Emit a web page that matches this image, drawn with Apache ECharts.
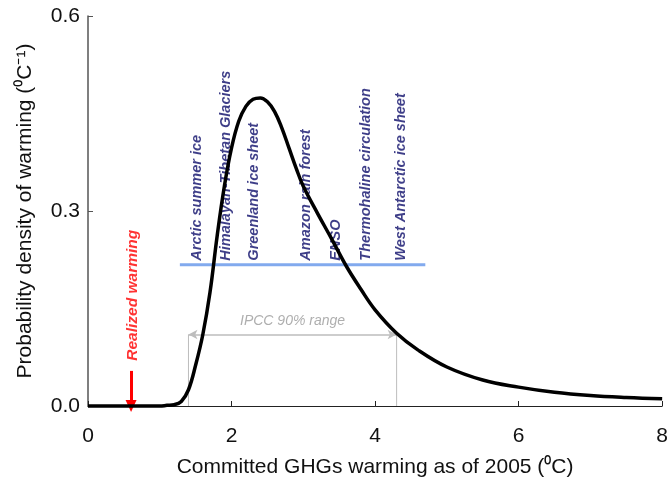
<!DOCTYPE html>
<html>
<head>
<meta charset="utf-8">
<script src="https://cdn.jsdelivr.net/npm/echarts@6/dist/echarts.min.js"></script>
<style>
html,body{margin:0;padding:0;background:#fff;}
#chart{width:671px;height:483px;}
</style>
</head>
<body>
<div id="chart"></div>
<script>
// ---- data ----
var curveX = [0, 0.5, 1.0, 1.1, 1.2, 1.3, 1.4, 1.5, 1.6, 1.7, 1.8, 1.9, 2.0, 2.1, 2.2, 2.3, 2.4, 2.5, 2.6, 2.7, 2.8, 2.9, 3.0, 3.2, 3.4, 3.6, 3.8, 4.0, 4.3, 4.6, 5.0, 5.5, 6.0, 6.5, 7.0, 7.5, 8.0];
var curveY = [0, 0, 0, 0.001, 0.002, 0.007, 0.025, 0.063, 0.11, 0.175, 0.262, 0.338, 0.397, 0.438, 0.461, 0.472, 0.474, 0.468, 0.453, 0.428, 0.397, 0.366, 0.338, 0.296, 0.256, 0.215, 0.180, 0.148, 0.112, 0.086, 0.060, 0.040, 0.029, 0.021, 0.016, 0.013, 0.011];
var tippingNames = ['Arctic summer ice', 'Himalayan-Tibetan Glaciers', 'Greenland ice sheet', 'Amazon rain forest', 'ENSO', 'Thermohaline circulation', 'West Antarctic ice sheet'];
var tippingX = [1.52, 1.92, 2.31, 3.04, 3.46, 3.88, 4.36];
var thresholdY = 0.2175;
var thresholdRange = [1.28, 4.70];
var realizedX = 0.6;
var realizedTop = 0.054;
var ipccRange = [1.4, 4.3];
var ipccY = 0.11;
var ipccLabel = 'IPCC 90% range';
var xTicks = [0, 2, 4, 6, 8];
var yTicks = [0.0, 0.3, 0.6];

var FONT = '"Liberation Sans", Arial, Helvetica, sans-serif';
var curveData = curveX.map(function (x, i) { return [x, curveY[i]]; });
var tippingData = tippingX.map(function (x, i) { return { value: [x, thresholdY], name: tippingNames[i] }; });

var chart = echarts.init(document.getElementById('chart'), null, { renderer: 'canvas' });
chart.setOption({
  animation: false,
  backgroundColor: '#ffffff',
  grid: { left: 88, right: 6, top: 16, bottom: 75, containLabel: false },
  xAxis: {
    type: 'value', min: xTicks[0], max: xTicks[xTicks.length - 1], interval: 2,
    name: 'Committed GHGs warming as of 2005 (\u2070C)',
    nameLocation: 'middle', nameGap: 51,
    nameTextStyle: { fontFamily: FONT, fontSize: 21, color: '#111' },
    axisLine: { show: true, onZero: false, lineStyle: { color: '#222', width: 1 } },
    axisTick: { show: true, inside: true, length: 5, lineStyle: { color: '#222' } },
    axisLabel: { fontFamily: FONT, fontSize: 21, color: '#111', margin: 20 },
    splitLine: { show: false }
  },
  yAxis: {
    type: 'value', min: yTicks[0], max: yTicks[yTicks.length - 1], interval: 0.3,
    name: 'Probability density of warming (\u2070C\u207B\u00B9)',
    nameLocation: 'middle', nameGap: 52, nameRotate: 90,
    nameTextStyle: { fontFamily: FONT, fontSize: 21, color: '#111' },
    axisLine: { show: true, lineStyle: { color: '#555', width: 1.5 } },
    axisTick: { show: true, inside: true, length: 5, lineStyle: { color: '#555' } },
    axisLabel: { fontFamily: FONT, fontSize: 21, color: '#111', margin: 8,
      formatter: function (v) { return v.toFixed(1); } },
    splitLine: { show: false }
  },
  series: [
    { // IPCC vertical bounds
      type: 'line', z: 2, symbol: 'none', silent: true, clip: false,
      lineStyle: { color: '#bdbdbd', width: 1 },
      data: [[ipccRange[0], 0], [ipccRange[0], ipccY], null, [ipccRange[1], ipccY], [ipccRange[1], 0]],
      connectNulls: false,
      markLine: {
        silent: true, symbol: ['arrow', 'arrow'], symbolSize: [7, 9],
        label: { show: false },
        lineStyle: { color: '#bdbdbd', width: 1.5, type: 'solid' },
        data: [[{ coord: [ipccRange[0], ipccY] }, { coord: [ipccRange[1], ipccY] }]]
      }
    },
    { // IPCC text
      type: 'scatter', z: 3, symbolSize: 0, silent: true,
      data: [{ value: [2.85, 0.13], name: ipccLabel }],
      label: { show: true, position: 'inside', formatter: '{b}',
        fontFamily: FONT, fontSize: 14, fontStyle: 'italic', color: '#9a9a9a' }
    },
    { // tipping element labels
      type: 'scatter', z: 3, symbolSize: 0, silent: true,
      data: tippingData,
      label: { show: true, position: 'top', distance: 4, rotate: 90, align: 'left', verticalAlign: 'middle',
        formatter: '{b}', fontFamily: FONT, fontSize: 14.5, fontWeight: 'bold', fontStyle: 'italic', color: '#0e0e6a' }
    },
    { // threshold line
      type: 'line', z: 4, symbol: 'none', silent: true,
      lineStyle: { color: '#82aaee', width: 3 },
      data: [[thresholdRange[0], thresholdY], [thresholdRange[1], thresholdY]]
    },
    { // main curve
      type: 'line', z: 5, symbol: 'none', smooth: 0.4, clip: false, silent: true,
      lineStyle: { color: '#000', width: 3.5 },
      data: curveData
    },
    { // realized warming
      type: 'scatter', z: 6, symbolSize: 0, silent: true,
      data: [{ value: [realizedX + 0.02, realizedTop + 0.008], name: 'Realized warming' }],
      label: { show: true, position: 'top', distance: 5, rotate: 90, align: 'left', verticalAlign: 'middle',
        formatter: '{b}', fontFamily: FONT, fontSize: 15.5, fontWeight: 'bold', fontStyle: 'italic', color: '#ff0000' },
      markLine: {
        silent: true, symbol: ['none', 'triangle'], symbolSize: [11, 12],
        label: { show: false },
        lineStyle: { color: '#ff0000', width: 3, type: 'solid' },
        data: [[{ coord: [realizedX, realizedTop] }, { coord: [realizedX, 0] }]]
      }
    }
  ]
});
</script>
</body>
</html>
